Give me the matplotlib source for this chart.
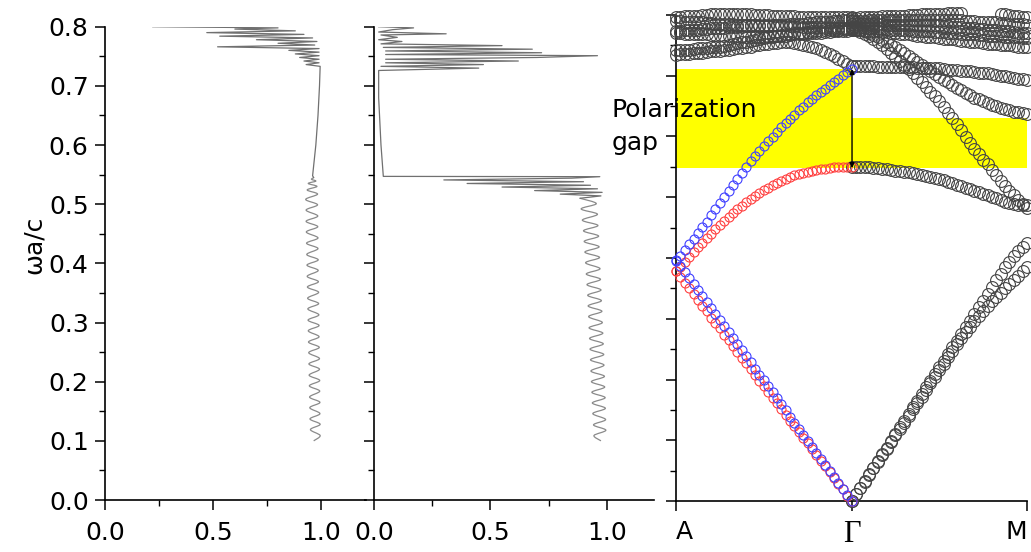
import numpy as np
import matplotlib
matplotlib.use("Agg")
import matplotlib.pyplot as plt
from matplotlib.patches import Rectangle, PathPatch
from matplotlib.path import Path
from matplotlib.ticker import MultipleLocator

plt.rcParams['font.family'] = ['DejaVu Sans']

# ---------------- transmission spectra (T vs normalised frequency) ----------------
# left spectrum: Fabry-Perot ripple below the gap, then the upper band edge
p1_wave_freq = [0.100, 0.109, 0.119, 0.128, 0.137, 0.146, 0.156, 0.165, 0.174, 0.184,
                0.193, 0.202, 0.211, 0.221, 0.230, 0.239, 0.249, 0.258, 0.267, 0.276,
                0.286, 0.295, 0.304, 0.313, 0.323, 0.332, 0.341, 0.351, 0.360, 0.369,
                0.378, 0.388, 0.397, 0.406, 0.415, 0.425, 0.434, 0.443, 0.453, 0.462,
                0.471, 0.480, 0.490, 0.499, 0.508, 0.517, 0.524, 0.530, 0.535, 0.539,
                0.542, 0.545]
p1_wave_T = [0.965, 0.995, 0.950, 0.995, 0.948, 0.994, 0.947, 0.994, 0.946, 0.993,
             0.945, 0.993, 0.944, 0.992, 0.943, 0.992, 0.942, 0.991, 0.941, 0.990,
             0.940, 0.990, 0.939, 0.989, 0.938, 0.988, 0.937, 0.988, 0.936, 0.987,
             0.935, 0.986, 0.934, 0.986, 0.933, 0.985, 0.932, 0.985, 0.931, 0.984,
             0.930, 0.984, 0.930, 0.983, 0.928, 0.983, 0.935, 0.980, 0.940, 0.975,
             0.955, 0.965]
p1_high_freq = [0.548, 0.600, 0.650, 0.700, 0.733,
                0.736, 0.739, 0.742, 0.745, 0.748, 0.751, 0.754, 0.757, 0.760, 0.763,
                0.766, 0.769, 0.772, 0.775, 0.778, 0.781, 0.784, 0.787, 0.790, 0.793,
                0.796, 0.798, 0.800]
p1_high_T = [0.960, 0.975, 0.985, 0.992, 0.995,
             0.93, 0.99, 0.92, 0.99, 0.90, 0.99, 0.88, 0.99, 0.85, 0.99,
             0.52, 0.97, 0.80, 0.98, 0.70, 0.96, 0.53, 0.92, 0.47, 0.88,
             0.60, 0.80, 0.22]

# right spectrum: ripple, sharp drop into the stop band, spikes above it
p2_wave_freq = [0.100, 0.109, 0.118, 0.127, 0.136, 0.146, 0.155, 0.164, 0.173, 0.182,
                0.191, 0.200, 0.209, 0.218, 0.228, 0.237, 0.246, 0.255, 0.264, 0.273,
                0.282, 0.291, 0.300, 0.310, 0.319, 0.328, 0.337, 0.346, 0.355, 0.364,
                0.373, 0.382, 0.391, 0.401, 0.410, 0.419, 0.428, 0.437, 0.446, 0.455,
                0.464, 0.473, 0.483, 0.492, 0.501, 0.510]
p2_wave_T = [0.975, 0.945, 0.996, 0.943, 0.995, 0.940, 0.994, 0.938, 0.993, 0.936,
             0.991, 0.934, 0.990, 0.932, 0.988, 0.930, 0.987, 0.928, 0.985, 0.926,
             0.983, 0.924, 0.981, 0.922, 0.979, 0.920, 0.977, 0.918, 0.975, 0.915,
             0.973, 0.912, 0.971, 0.909, 0.969, 0.906, 0.967, 0.903, 0.965, 0.900,
             0.962, 0.895, 0.960, 0.890, 0.955, 0.885]
p2_high_freq = [0.514, 0.517, 0.520, 0.523, 0.526, 0.529, 0.532, 0.535, 0.538, 0.541,
                0.544, 0.5465, 0.547,
                0.600, 0.680, 0.726,
                0.730, 0.733, 0.736, 0.739, 0.742, 0.745, 0.748, 0.751, 0.753, 0.756,
                0.759, 0.762, 0.765, 0.768, 0.771, 0.775, 0.778, 0.782, 0.786, 0.788,
                0.791, 0.795, 0.798, 0.800]
p2_high_T = [0.975, 0.80, 0.98, 0.69, 0.96, 0.55, 0.93, 0.40, 0.90, 0.30,
             0.85, 0.97, 0.04,
             0.03, 0.02, 0.02,
             0.45, 0.03, 0.47, 0.05, 0.62, 0.05, 0.70, 0.96, 0.05, 0.72,
             0.05, 0.68, 0.04, 0.55, 0.03, 0.12, 0.02, 0.10, 0.03, 0.31,
             0.02, 0.08, 0.17, 0.02]

# ---------------- band structure, A -> Gamma (k = 0..1) ----------------
ag_red_low = [0.378, 0.369, 0.359, 0.350, 0.340, 0.331, 0.321, 0.312, 0.302, 0.293,
              0.284, 0.274, 0.265, 0.255, 0.246, 0.236, 0.227, 0.217, 0.208, 0.198,
              0.189, 0.180, 0.170, 0.161, 0.151, 0.142, 0.132, 0.123, 0.113, 0.104,
              0.095, 0.085, 0.076, 0.066, 0.057, 0.047, 0.038, 0.028, 0.019, 0.009, 0.000]
ag_blue_low = [0.397, 0.387, 0.377, 0.367, 0.357, 0.347, 0.337, 0.328, 0.318, 0.308,
               0.298, 0.288, 0.278, 0.268, 0.258, 0.248, 0.238, 0.228, 0.218, 0.208,
               0.199, 0.189, 0.179, 0.169, 0.159, 0.149, 0.139, 0.129, 0.119, 0.109,
               0.099, 0.089, 0.079, 0.069, 0.060, 0.050, 0.040, 0.030, 0.020, 0.010, 0.000]
ag_red_up = [0.378, 0.386, 0.394, 0.402, 0.410, 0.418, 0.425, 0.433, 0.440, 0.447,
             0.454, 0.461, 0.468, 0.474, 0.480, 0.486, 0.492, 0.497, 0.502, 0.507,
             0.512, 0.516, 0.520, 0.524, 0.527, 0.530, 0.533, 0.536, 0.538, 0.540,
             0.542, 0.544, 0.545, 0.546, 0.547, 0.548, 0.549, 0.549, 0.550, 0.550, 0.550]
ag_blue_up = [0.395, 0.404, 0.413, 0.423, 0.432, 0.441, 0.451, 0.460, 0.470, 0.480,
              0.490, 0.500, 0.510, 0.520, 0.530, 0.540, 0.550, 0.559, 0.568, 0.576,
              0.585, 0.593, 0.600, 0.608, 0.615, 0.622, 0.629, 0.636, 0.643, 0.649,
              0.656, 0.662, 0.668, 0.674, 0.679, 0.685, 0.690, 0.695, 0.701, 0.706, 0.711]
ag_high = [
    [0.734, 0.735, 0.735, 0.736, 0.737, 0.737, 0.738, 0.739, 0.740, 0.740,
     0.741, 0.742, 0.743, 0.744, 0.745, 0.746, 0.747, 0.748, 0.750, 0.751,
     0.752, 0.753, 0.754, 0.754, 0.755, 0.755, 0.755, 0.754, 0.753, 0.751,
     0.749, 0.747, 0.745, 0.742, 0.739, 0.736, 0.732, 0.728, 0.724, 0.720, 0.716],
    [0.742, 0.742, 0.743, 0.743, 0.744, 0.745, 0.745, 0.746, 0.747, 0.747,
     0.748, 0.749, 0.751, 0.752, 0.754, 0.755, 0.756, 0.758, 0.759, 0.761,
     0.762, 0.763, 0.764, 0.765, 0.765, 0.766, 0.767, 0.768, 0.768, 0.769,
     0.770, 0.770, 0.771, 0.771, 0.772, 0.772, 0.773, 0.773, 0.774, 0.774, 0.775],
    [0.770, 0.770, 0.769, 0.769, 0.769, 0.768, 0.768, 0.768, 0.767, 0.767,
     0.767, 0.766, 0.766, 0.765, 0.765, 0.765, 0.764, 0.764, 0.764, 0.764,
     0.764, 0.765, 0.765, 0.766, 0.767, 0.768, 0.769, 0.770, 0.771, 0.771,
     0.772, 0.773, 0.773, 0.774, 0.775, 0.775, 0.776, 0.776, 0.777, 0.777, 0.778],
    [0.774, 0.774, 0.775, 0.775, 0.776, 0.776, 0.777, 0.777, 0.778, 0.778,
     0.779, 0.779, 0.780, 0.780, 0.781, 0.781, 0.782, 0.782, 0.783, 0.783,
     0.784, 0.784, 0.784, 0.783, 0.783, 0.783, 0.782, 0.782, 0.782, 0.781,
     0.781, 0.781, 0.780, 0.780, 0.779, 0.779, 0.778, 0.778, 0.778, 0.777, 0.777],
    [0.790, 0.790, 0.789, 0.789, 0.788, 0.788, 0.788, 0.787, 0.787, 0.786,
     0.786, 0.786, 0.785, 0.785, 0.784, 0.784, 0.784, 0.783, 0.783, 0.782,
     0.782, 0.782, 0.783, 0.783, 0.784, 0.784, 0.785, 0.785, 0.786, 0.786,
     0.787, 0.787, 0.788, 0.788, 0.789, 0.789, 0.790, 0.790, 0.791, 0.791, 0.792],
    [0.797, 0.797, 0.798, 0.798, 0.799, 0.799, 0.800, 0.800, 0.801, 0.801,
     0.802, 0.802, 0.802, 0.802, 0.801, 0.801, 0.801, 0.801, 0.800, 0.800,
     0.800, 0.800, 0.799, 0.799, 0.799, 0.798, 0.798, 0.798, 0.797, 0.797,
     0.797, 0.797, 0.797, 0.797, 0.796, 0.796, 0.796, 0.796, 0.796, 0.796, 0.796],
]

# ---------------- band structure, Gamma -> M (k = 1..2) ----------------
nan = np.nan
gm_bands = [
    [0.000, 0.011, 0.022, 0.032, 0.043, 0.054, 0.065, 0.075, 0.086, 0.097,
     0.108, 0.118, 0.129, 0.140, 0.151, 0.161, 0.172, 0.183, 0.194, 0.204,
     0.215, 0.226, 0.237, 0.247, 0.258, 0.268, 0.278, 0.287, 0.296, 0.305,
     0.313, 0.321, 0.329, 0.336, 0.343, 0.350, 0.357, 0.364, 0.371, 0.378, 0.385],
    [0.000, 0.011, 0.022, 0.033, 0.044, 0.055, 0.066, 0.077, 0.088, 0.099,
     0.110, 0.121, 0.132, 0.143, 0.154, 0.165, 0.176, 0.187, 0.198, 0.209,
     0.220, 0.231, 0.242, 0.253, 0.264, 0.275, 0.286, 0.297, 0.308, 0.319,
     0.330, 0.341, 0.352, 0.363, 0.374, 0.385, 0.394, 0.403, 0.411, 0.418, 0.424],
    [0.549, 0.549, 0.549, 0.549, 0.549, 0.548, 0.548, 0.547, 0.546, 0.545,
     0.544, 0.543, 0.542, 0.541, 0.540, 0.538, 0.537, 0.535, 0.534, 0.532,
     0.530, 0.528, 0.525, 0.523, 0.520, 0.518, 0.515, 0.513, 0.510, 0.508,
     0.505, 0.503, 0.500, 0.498, 0.495, 0.493, 0.491, 0.489, 0.488, 0.487, 0.487],
    [0.716, 0.716, 0.716, 0.716, 0.716, 0.716, 0.715, 0.715, 0.715, 0.715,
     0.715, 0.715, 0.714, 0.714, 0.714, 0.713, 0.713, 0.713, 0.712, 0.712,
     0.712, 0.711, 0.710, 0.710, 0.709, 0.708, 0.708, 0.707, 0.706, 0.705,
     0.705, 0.704, 0.703, 0.702, 0.700, 0.699, 0.698, 0.697, 0.695, 0.694, 0.693],
    [0.778, 0.777, 0.775, 0.773, 0.770, 0.767, 0.763, 0.759, 0.755, 0.751,
     0.747, 0.742, 0.738, 0.733, 0.728, 0.723, 0.718, 0.713, 0.708, 0.703,
     0.698, 0.693, 0.689, 0.684, 0.680, 0.676, 0.672, 0.668, 0.664, 0.661,
     0.658, 0.655, 0.652, 0.650, 0.647, 0.645, 0.643, 0.641, 0.640, 0.638, 0.637],
    [0.778, 0.775, 0.772, 0.769, 0.765, 0.760, 0.755, 0.750, 0.744, 0.738,
     0.731, 0.725, 0.718, 0.711, 0.704, 0.697, 0.690, 0.682, 0.674, 0.666,
     0.658, 0.649, 0.639, 0.630, 0.620, 0.610, 0.600, 0.590, 0.580, 0.571,
     0.562, 0.554, 0.545, 0.536, 0.527, 0.519, 0.510, 0.503, 0.496, 0.489, 0.482],
    [0.776, 0.775, 0.775, 0.774, 0.774, 0.773, 0.773, 0.772, 0.772, 0.771,
     0.770, 0.769, 0.768, 0.768, 0.767, 0.766, 0.765, 0.764, 0.764, 0.763,
     0.762, 0.761, 0.760, 0.760, 0.759, 0.758, 0.757, 0.756, 0.756, 0.755,
     0.754, 0.753, 0.752, 0.752, 0.751, 0.750, 0.750, 0.749, 0.748, 0.748, 0.747],
    [0.780, 0.780, 0.779, 0.779, 0.778, 0.778, 0.778, 0.777, 0.777, 0.776,
     0.776, 0.776, 0.775, 0.775, 0.774, 0.774, 0.774, 0.773, 0.773, 0.772,
     0.772, 0.772, 0.771, 0.770, 0.770, 0.769, 0.769, 0.768, 0.768, 0.767,
     0.767, 0.766, 0.766, 0.765, 0.765, 0.764, 0.764, 0.763, 0.763, 0.762, 0.762],
    [0.786, 0.786, 0.786, 0.786, 0.785, 0.785, 0.785, 0.785, 0.784, 0.784,
     0.784, 0.784, 0.784, 0.784, 0.783, 0.783, 0.783, 0.783, 0.783, 0.783,
     0.783, 0.782, 0.782, 0.781, 0.781, 0.780, 0.779, 0.779, 0.778, 0.777,
     0.777, 0.776, 0.775, 0.775, 0.774, 0.773, 0.773, 0.772, 0.771, 0.771, 0.770],
    [0.790, 0.790, 0.790, 0.790, 0.791, 0.791, 0.791, 0.791, 0.791, 0.791,
     0.792, 0.792, 0.792, 0.792, 0.792, 0.792, 0.792, 0.792, 0.792, 0.792,
     0.792, 0.792, 0.791, 0.791, 0.791, 0.791, 0.790, 0.790, 0.790, 0.789,
     0.789, 0.789, 0.788, 0.788, 0.787, 0.787, 0.786, 0.786, 0.785, 0.785, 0.784],
    [0.795, 0.795, 0.796, 0.796, 0.797, 0.797, 0.797, 0.798, 0.798, 0.798,
     0.799, 0.799, 0.799, 0.800, 0.800, 0.800, 0.801, 0.801, 0.801, 0.802,
     0.802, 0.802, 0.803, 0.803, 0.804, 0.804, nan, nan, nan, nan,
     nan, nan, nan, nan, 0.802, 0.801, 0.800, 0.799, 0.798, 0.797, 0.797],
]

# polarization gaps (lower edge, upper edge) on each side of Gamma
gap_ag = (0.548, 0.711)
gap_gm = (0.548, 0.630)

k_labels = ['A', 'Γ', 'M']

# ---------------- figure ----------------
W, H = 1031, 552
fig = plt.figure(figsize=(W / 100, H / 100), dpi=100)


def px_axes(x0, y0, x1, y1):
    return fig.add_axes([x0 / W, 1 - y1 / H, (x1 - x0) / W, (y1 - y0) / H])


ax1 = px_axes(105.3, 26.7, 365.5, 500)
ax2 = px_axes(374, 26.7, 654.5, 500)
ax3 = px_axes(676, 15, 1027, 501)

for ax in (ax1, ax2, ax3):
    for s in ('top', 'right'):
        ax.spines[s].set_visible(False)
    for s in ('left', 'bottom'):
        ax.spines[s].set_linewidth(1.2)
    ax.set_ylim(0, 0.8)
    ax.yaxis.set_major_locator(MultipleLocator(0.1))
    ax.yaxis.set_minor_locator(MultipleLocator(0.05))
    ax.tick_params(which='major', direction='out', length=7, width=1.1,
                   labelsize=18, colors='black')
    ax.tick_params(which='minor', direction='out', length=4, width=1.0)

for ax in (ax1, ax2):
    ax.set_xlim(0, 1.205)
    ax.xaxis.set_major_locator(MultipleLocator(0.5))
    ax.xaxis.set_minor_locator(MultipleLocator(0.25))
    ax.tick_params(axis='x', which='major', pad=8)

ax2.tick_params(axis='y', labelleft=False)
ax3.tick_params(axis='y', labelleft=False)

ax1.set_ylabel('ωa/c', fontsize=18)
ax1.yaxis.set_label_coords(-0.23, 0.54)
ax1.tick_params(axis='y', pad=5)


def smooth_path(xs, ys):
    """Cubic (Catmull-Rom style) curve through the given points."""
    P = np.column_stack([xs, ys])
    verts, codes = [P[0]], [Path.MOVETO]
    n = len(P)
    for i in range(n - 1):
        p0 = P[i - 1] if i > 0 else P[i]
        p1, p2 = P[i], P[i + 1]
        p3 = P[i + 2] if i + 2 < n else P[i + 1]
        verts += [p1 + (p2 - p0) / 6.0, p2 - (p3 - p1) / 6.0, p2]
        codes += [Path.CURVE4] * 3
    return Path(verts, codes)


wave_col = '#8a8a8a'
spike_col = '#707070'
for ax, wf, wt, hf, ht in ((ax1, p1_wave_freq, p1_wave_T, p1_high_freq, p1_high_T),
                           (ax2, p2_wave_freq, p2_wave_T, p2_high_freq, p2_high_T)):
    ax.add_patch(PathPatch(smooth_path(wt, wf), facecolor='none',
                           edgecolor=wave_col, lw=0.9))
    ax.plot([wt[-1]] + ht, [wf[-1]] + hf, color=spike_col, lw=0.9)

# band structure panel
ax3.set_xlim(0, 2)
ax3.set_xticks([0, 1, 2])
labs = ax3.set_xticklabels(k_labels)
ax3.tick_params(axis='x', which='major', pad=7)
labs[0].set_horizontalalignment('left')
labs[2].set_horizontalalignment('right')
labs[1].set_fontfamily('Liberation Serif')
labs[1].set_fontsize(22)

ax3.add_patch(Rectangle((0, gap_ag[0]), 1, gap_ag[1] - gap_ag[0],
                        facecolor='#ffff00', edgecolor='none', zorder=0))
ax3.add_patch(Rectangle((1, gap_gm[0]), 1, gap_gm[1] - gap_gm[0],
                        facecolor='#ffff00', edgecolor='none', zorder=0))

mk_black = dict(ls='none', marker='o', ms=8.5, mfc='none', mec='#454545',
                mew=0.8, clip_on=False, zorder=3)
mk_red = dict(ls='none', marker='o', ms=6.5, mfc='none', mec='#ff4040',
              mew=0.8, clip_on=False, zorder=3)
mk_blue = dict(ls='none', marker='o', ms=6.5, mfc='none', mec='#4040ff',
               mew=0.8, clip_on=False, zorder=4)


def kgrid(vals, k0, k1):
    return np.linspace(k0, k1, len(vals))


for band in ag_high:
    ax3.plot(kgrid(band, 0, 1), band, **mk_black)
for band in gm_bands:
    ax3.plot(kgrid(band, 1, 2), band, **mk_black)
ax3.plot(kgrid(ag_red_low, 0, 1), ag_red_low, **mk_red)
ax3.plot(kgrid(ag_red_up, 0, 1), ag_red_up, **mk_red)
ax3.plot(kgrid(ag_blue_low, 0, 1), ag_blue_low, **mk_blue)
ax3.plot(kgrid(ag_blue_up, 0, 1), ag_blue_up, **mk_blue)

ax3.annotate('', xy=(1.003, gap_ag[1]), xytext=(1.003, gap_ag[0]),
             arrowprops=dict(arrowstyle='<|-|>', color='black', lw=1.0,
                             mutation_scale=7, shrinkA=0, shrinkB=0),
             zorder=5)

fig.text(612 / W, 1 - 117 / H, 'Polarization', fontsize=18, va='baseline', ha='left')
fig.text(612 / W, 1 - 150 / H, 'gap', fontsize=18, va='baseline', ha='left')

fig.savefig('out.png', dpi=100)
